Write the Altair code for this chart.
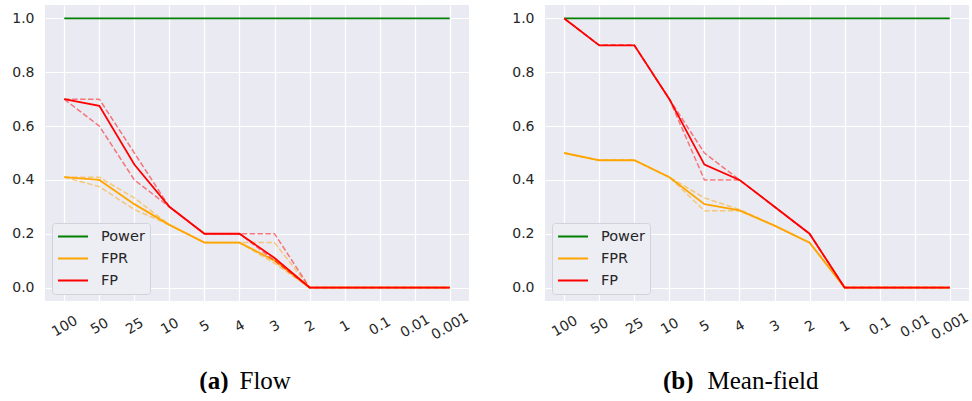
import altair as alt
import pandas as pd

x_labels = ["100", "50", "25", "10", "5", "4", "3", "2", "1", "0.1", "0.01", "0.001"]
metrics = ["Power", "FPR", "FP"]
metric_colors = ["#008000", "#FFA500", "#FF0000"]

# (a) Flow
flow_power = [1.0, 1.0, 1.0, 1.0, 1.0, 1.0, 1.0, 1.0, 1.0, 1.0, 1.0, 1.0]
flow_fpr = [0.41, 0.40, 0.31, 0.233, 0.167, 0.167, 0.10, 0.0, 0.0, 0.0, 0.0, 0.0]
flow_fpr_hi = [0.41, 0.41, 0.333, 0.233, 0.167, 0.167, 0.167, 0.0, 0.0, 0.0, 0.0, 0.0]
flow_fpr_lo = [0.41, 0.375, 0.29, 0.233, 0.167, 0.167, 0.09, 0.0, 0.0, 0.0, 0.0, 0.0]
flow_fp = [0.70, 0.675, 0.457, 0.30, 0.20, 0.20, 0.11, 0.0, 0.0, 0.0, 0.0, 0.0]
flow_fp_hi = [0.70, 0.70, 0.50, 0.30, 0.20, 0.20, 0.20, 0.0, 0.0, 0.0, 0.0, 0.0]
flow_fp_lo = [0.70, 0.60, 0.40, 0.30, 0.20, 0.20, 0.10, 0.0, 0.0, 0.0, 0.0, 0.0]

# (b) Mean-field
mf_power = [1.0, 1.0, 1.0, 1.0, 1.0, 1.0, 1.0, 1.0, 1.0, 1.0, 1.0, 1.0]
mf_fpr = [0.50, 0.473, 0.473, 0.41, 0.31, 0.287, 0.23, 0.167, 0.0, 0.0, 0.0, 0.0]
mf_fpr_hi = [0.50, 0.473, 0.473, 0.41, 0.333, 0.29, 0.23, 0.167, 0.0, 0.0, 0.0, 0.0]
mf_fpr_lo = [0.50, 0.473, 0.473, 0.41, 0.285, 0.285, 0.23, 0.167, 0.0, 0.0, 0.0, 0.0]
mf_fp = [1.0, 0.90, 0.90, 0.70, 0.457, 0.40, 0.30, 0.20, 0.0, 0.0, 0.0, 0.0]
mf_fp_hi = [1.0, 0.90, 0.90, 0.70, 0.50, 0.40, 0.30, 0.20, 0.0, 0.0, 0.0, 0.0]
mf_fp_lo = [1.0, 0.90, 0.90, 0.70, 0.40, 0.40, 0.30, 0.20, 0.0, 0.0, 0.0, 0.0]

y_ticks = [0.0, 0.2, 0.4, 0.6, 0.8, 1.0]


def build_df(series):
    rows = []
    for metric, kind, vals in series:
        for xl, v in zip(x_labels, vals):
            rows.append({"x": xl, "value": v, "metric": metric, "kind": kind})
    return pd.DataFrame(rows)


flow_df = build_df([
    ("Power", "mean", flow_power),
    ("FPR", "mean", flow_fpr), ("FPR", "hi", flow_fpr_hi), ("FPR", "lo", flow_fpr_lo),
    ("FP", "mean", flow_fp), ("FP", "hi", flow_fp_hi), ("FP", "lo", flow_fp_lo),
])
mf_df = build_df([
    ("Power", "mean", mf_power),
    ("FPR", "mean", mf_fpr), ("FPR", "hi", mf_fpr_hi), ("FPR", "lo", mf_fpr_lo),
    ("FP", "mean", mf_fp), ("FP", "hi", mf_fp_hi), ("FP", "lo", mf_fp_lo),
])

PW = 424
PH = 296
TEXT = "#262626"
SERIF = "Liberation Serif"


def make_panel(df, tag, name, tag_x, name_x):
    x_enc = alt.X(
        "x:N", sort=x_labels,
        scale=alt.Scale(type="point", padding=0.55),
        axis=alt.Axis(
            title=tag, titleX=tag_x, titleY=87, titleAlign="right",
            titleBaseline="alphabetic", titleFont=SERIF, titleFontSize=25,
            titleFontWeight="bold", titleColor="black",
            labelAngle=330, labelAlign="center", labelBaseline="middle",
            labelPadding=25, ticks=False, domain=False, grid=True,
            gridColor="white", gridWidth=1.2,
            labelFont="DejaVu Sans", labelFontSize=14, labelColor=TEXT,
        ),
    )
    y_enc = alt.Y(
        "value:Q",
        scale=alt.Scale(domain=[-0.05, 1.05], nice=False, zero=False),
        axis=alt.Axis(
            values=y_ticks, format=".1f",
            title=name, titleX=name_x, titleY=383, titleAngle=0,
            titleAlign="left", titleBaseline="alphabetic", titleFont=SERIF,
            titleFontSize=25, titleFontWeight="normal", titleColor="black",
            ticks=False, domain=False, grid=True, gridColor="white", gridWidth=1.2,
            labelPadding=11, labelFont="DejaVu Sans", labelFontSize=14,
            labelColor=TEXT,
        ),
    )
    scale = alt.Scale(domain=metrics, range=metric_colors)
    color_leg = alt.Color(
        "metric:N", scale=scale,
        legend=alt.Legend(
            title=None, orient="bottom-left", offset=7,
            symbolType="stroke", symbolSize=900, symbolStrokeWidth=2,
            labelFont="DejaVu Sans", labelFontSize=14.5, labelColor=TEXT,
            labelOffset=12, clipHeight=17, rowPadding=5, padding=5,
            fillColor="#EDEDF4", strokeColor="#D2D2DA", cornerRadius=3,
        ),
    )
    color_noleg = alt.Color("metric:N", scale=scale, legend=None)
    base = alt.Chart(df)
    layers = []
    for m in metrics:
        if m != "Power":
            layers.append(
                base.transform_filter(f"datum.metric == '{m}' && datum.kind != 'mean'")
                .mark_line(strokeWidth=1.5, strokeDash=[5.5, 2.4], opacity=0.5)
                .encode(x=x_enc, y=y_enc, color=color_noleg, detail="kind:N")
            )
        layers.append(
            base.transform_filter(f"datum.metric == '{m}' && datum.kind == 'mean'")
            .mark_line(strokeWidth=1.8)
            .encode(x=x_enc, y=y_enc, color=color_leg)
        )
    return alt.layer(*layers).properties(width=PW, height=PH)


left = make_panel(flow_df, "(a)", "Flow", 183, 194)
right = make_panel(mf_df, "(b)", "Mean-field", 148, 162)

chart = (
    alt.hconcat(left, right, spacing=76, bounds="flush")
    .resolve_scale(color="independent", x="independent", y="independent")
    .resolve_legend(color="independent")
    .properties(padding={"left": 11, "top": 5, "right": 0, "bottom": 0}, background="white")
    .configure_view(fill="#EAEAF2", strokeWidth=0)
)

chart.save("out.html", embed_options={"renderer": "svg", "actions": False})
